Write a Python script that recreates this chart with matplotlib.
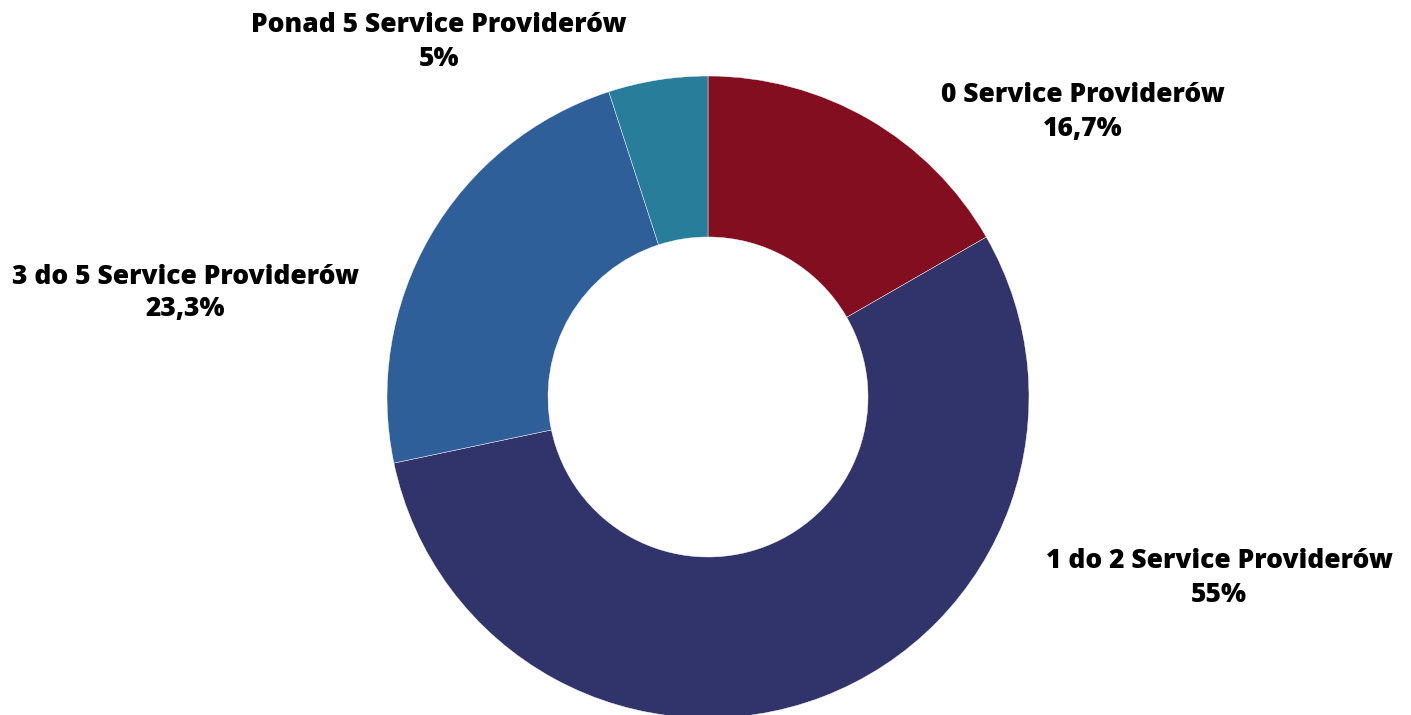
import matplotlib.pyplot as plt

labels = ['0 Service Providerów', '1 do 2 Service Providerów',
          '3 do 5 Service Providerów', 'Ponad 5 Service Providerów']
values = [16.7, 55.0, 23.3, 5.0]
value_text = ['16,7%', '55%', '23,3%', '5%']
colors = ['#820E20', '#31346B', '#2F5F98', '#277D9A']

# label anchor points (pixels from top-left)
label_pos = [(1083, 112), (1219, 578), (185, 293), (439, 42)]

W, H = 1411, 715
fig = plt.figure(figsize=(W / 100, H / 100), dpi=100)
ax = fig.add_axes([0, 0, 1, 1])

ax.pie(values, colors=colors, startangle=90, counterclock=False,
       center=(708, H - 397), radius=321,
       wedgeprops=dict(width=161, edgecolor='white', linewidth=0.3))

# pie() resets the limits, so fix them afterwards
ax.set_xlim(0, W)
ax.set_ylim(0, H)
ax.set_aspect('equal')
ax.axis('off')

for lab, val, (x, y) in zip(labels, value_text, label_pos):
    ax.text(x, H - y, f'{lab}\n{val}', ha='center', va='center',
            fontsize=19, fontweight=800, family='Open Sans',
            linespacing=1.35, color='black')

fig.savefig('out.png', dpi=100)
